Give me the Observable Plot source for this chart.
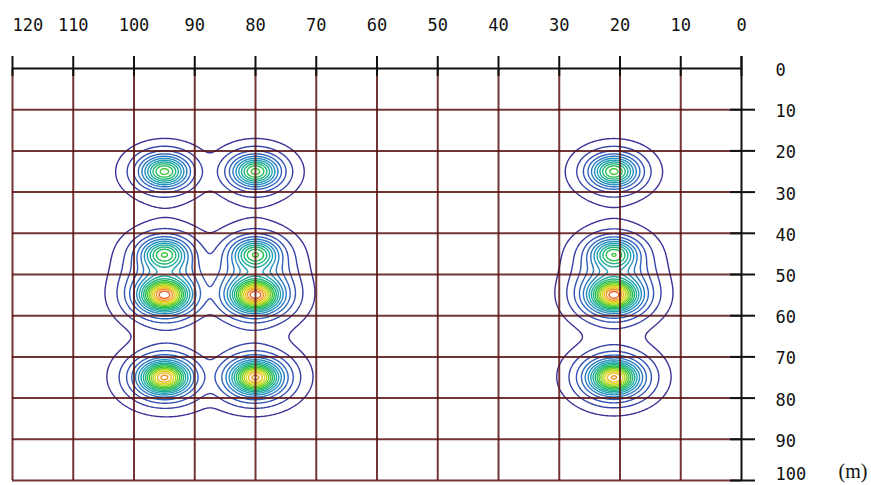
<!DOCTYPE html>
<html>
<head>
<meta charset="utf-8">
<script src="https://cdn.jsdelivr.net/npm/d3@7"></script>
<script src="https://cdn.jsdelivr.net/npm/@observablehq/plot@0.6"></script>
<style>
  html, body { margin: 0; padding: 0; background: #fff; }
  #chart { width: 871px; height: 485px; overflow: hidden; }
</style>
</head>
<body>
<div id="chart"></div>
<script>
// Tick labels
const xTicks = [120, 110, 100, 90, 80, 70, 60, 50, 40, 30, 20, 10, 0];
const yTicks = [0, 10, 20, 30, 40, 50, 60, 70, 80, 90, 100];
const unitLabel = ["(m)"];

// Anomaly sources (position in m, relative strength, far-field strength)
const srcX    = [95, 80, 21, 95, 80, 21, 95, 80, 21, 95, 80, 21];
const srcY    = [25, 25, 25, 45, 45, 45, 55, 55, 55, 75, 75, 75];
const srcAmp  = [1.0, 1.0, 1.0, 0.9, 0.9, 0.9, 1.5, 1.5, 1.5, 1.4, 1.4, 1.4];
const srcLink = [0.05, 0.05, 0.05, 0.05, 0.05, 0.05, 0.35, 0.35, 0.35, 0.35, 0.35, 0.35];
// source profile: broad halo + narrow core, plus a weak far field
const haloAmp = 4.3, haloSpread = 4.6;
const coreAmp = 7.0, coreSpread = 2.25;
const linkSpread = 10;
const mixPower = 2.5;

// Contour levels and colours
const levels = d3.range(1, 19);
const levelColors = ["#3c3296", "#3450b4", "#2c74c4", "#209cbc", "#1cb08a", "#28c040", "#8cd420", "#e6d81e", "#f09020", "#e02a1c"];

function field(x, y) {
  const cols = new Map();
  let link = 0;
  for (let i = 0; i < srcX.length; ++i) {
    const d2 = (x - srcX[i]) ** 2 + (y - srcY[i]) ** 2;
    const v = srcAmp[i] * (haloAmp * Math.exp(-d2 / (2 * haloSpread ** 2)) + coreAmp * Math.exp(-d2 / (2 * coreSpread ** 2)));
    cols.set(srcX[i], (cols.get(srcX[i]) || 0) + v);
    link += srcLink[i] * Math.exp(-d2 / (2 * linkSpread ** 2));
  }
  let s = 0;
  for (const v of cols.values()) s += v ** mixPower;
  return s ** (1 / mixPower) + link;
}

const W = 871, H = 485;
const mL = 12, mR = 130, mT = 68, mB = 5;
const innerW = W - mL - mR, innerH = H - mT - mB;
const tickFont = "DejaVu Sans Mono, monospace";

const chart = Plot.plot({
  width: W,
  height: H,
  marginLeft: mL,
  marginRight: mR,
  marginTop: mT,
  marginBottom: mB,
  style: {background: "#fff", overflow: "visible"},
  x: {domain: [120, 0], axis: null},
  y: {domain: [0, 100], reverse: true, axis: null},
  color: {type: "linear", domain: [1, 18], range: levelColors, interpolate: "rgb"},
  marks: [
    Plot.contour({
      x1: 120, x2: 0, y1: 0, y2: 100,
      stroke: field,
      fill: "none",
      thresholds: levels,
      strokeWidth: 1.4,
      pixelSize: 1
    }),
    // grid
    Plot.ruleX(xTicks.filter(d => d !== 0), {x: d => d, stroke: "#5a1212", strokeOpacity: 0.85, strokeWidth: 2}),
    Plot.ruleY(yTicks.filter(d => d !== 0), {y: d => d, stroke: "#5a1212", strokeOpacity: 0.85, strokeWidth: 2}),
    // axes lines
    Plot.ruleY([0], {y: d => d, stroke: "#111", strokeWidth: 2}),
    Plot.ruleX([0], {x: d => d, stroke: "#111", strokeWidth: 2, insetTop: -12}),
    // top ticks
    Plot.ruleX(xTicks, {x: d => d, stroke: "#111", strokeWidth: 2, insetTop: -12, insetBottom: innerH - 8}),
    // right ticks
    Plot.ruleY(yTicks.filter(d => d !== 0), {y: d => d, stroke: "#111", strokeWidth: 2, insetLeft: innerW - 11, insetRight: -14}),
    // labels
    Plot.text(xTicks.slice(0, 1), {x: d => d, frameAnchor: "top", dy: -50, textAnchor: "start", text: d => String(d), fontSize: 17, fontFamily: tickFont, fill: "#111"}),
    Plot.text(xTicks.slice(1), {x: d => d, frameAnchor: "top", dy: -50, text: d => String(d), fontSize: 17, fontFamily: tickFont, fill: "#111"}),
    Plot.text(yTicks.slice(0, -1), {y: d => d, frameAnchor: "right", dx: 34, dy: 2, textAnchor: "start", text: d => String(d), fontSize: 17, fontFamily: tickFont, fill: "#111"}),
    Plot.text(yTicks.slice(-1), {y: d => d, frameAnchor: "right", dx: 34, dy: -6, textAnchor: "start", text: d => String(d), fontSize: 17, fontFamily: tickFont, fill: "#111"}),
    Plot.text(unitLabel, {frameAnchor: "bottom-right", dx: 97, dy: -3, textAnchor: "start", text: d => d, fontSize: 20, fontFamily: "Liberation Serif, serif", fill: "#111"})
  ]
});
document.getElementById("chart").appendChild(chart);
</script>
</body>
</html>
